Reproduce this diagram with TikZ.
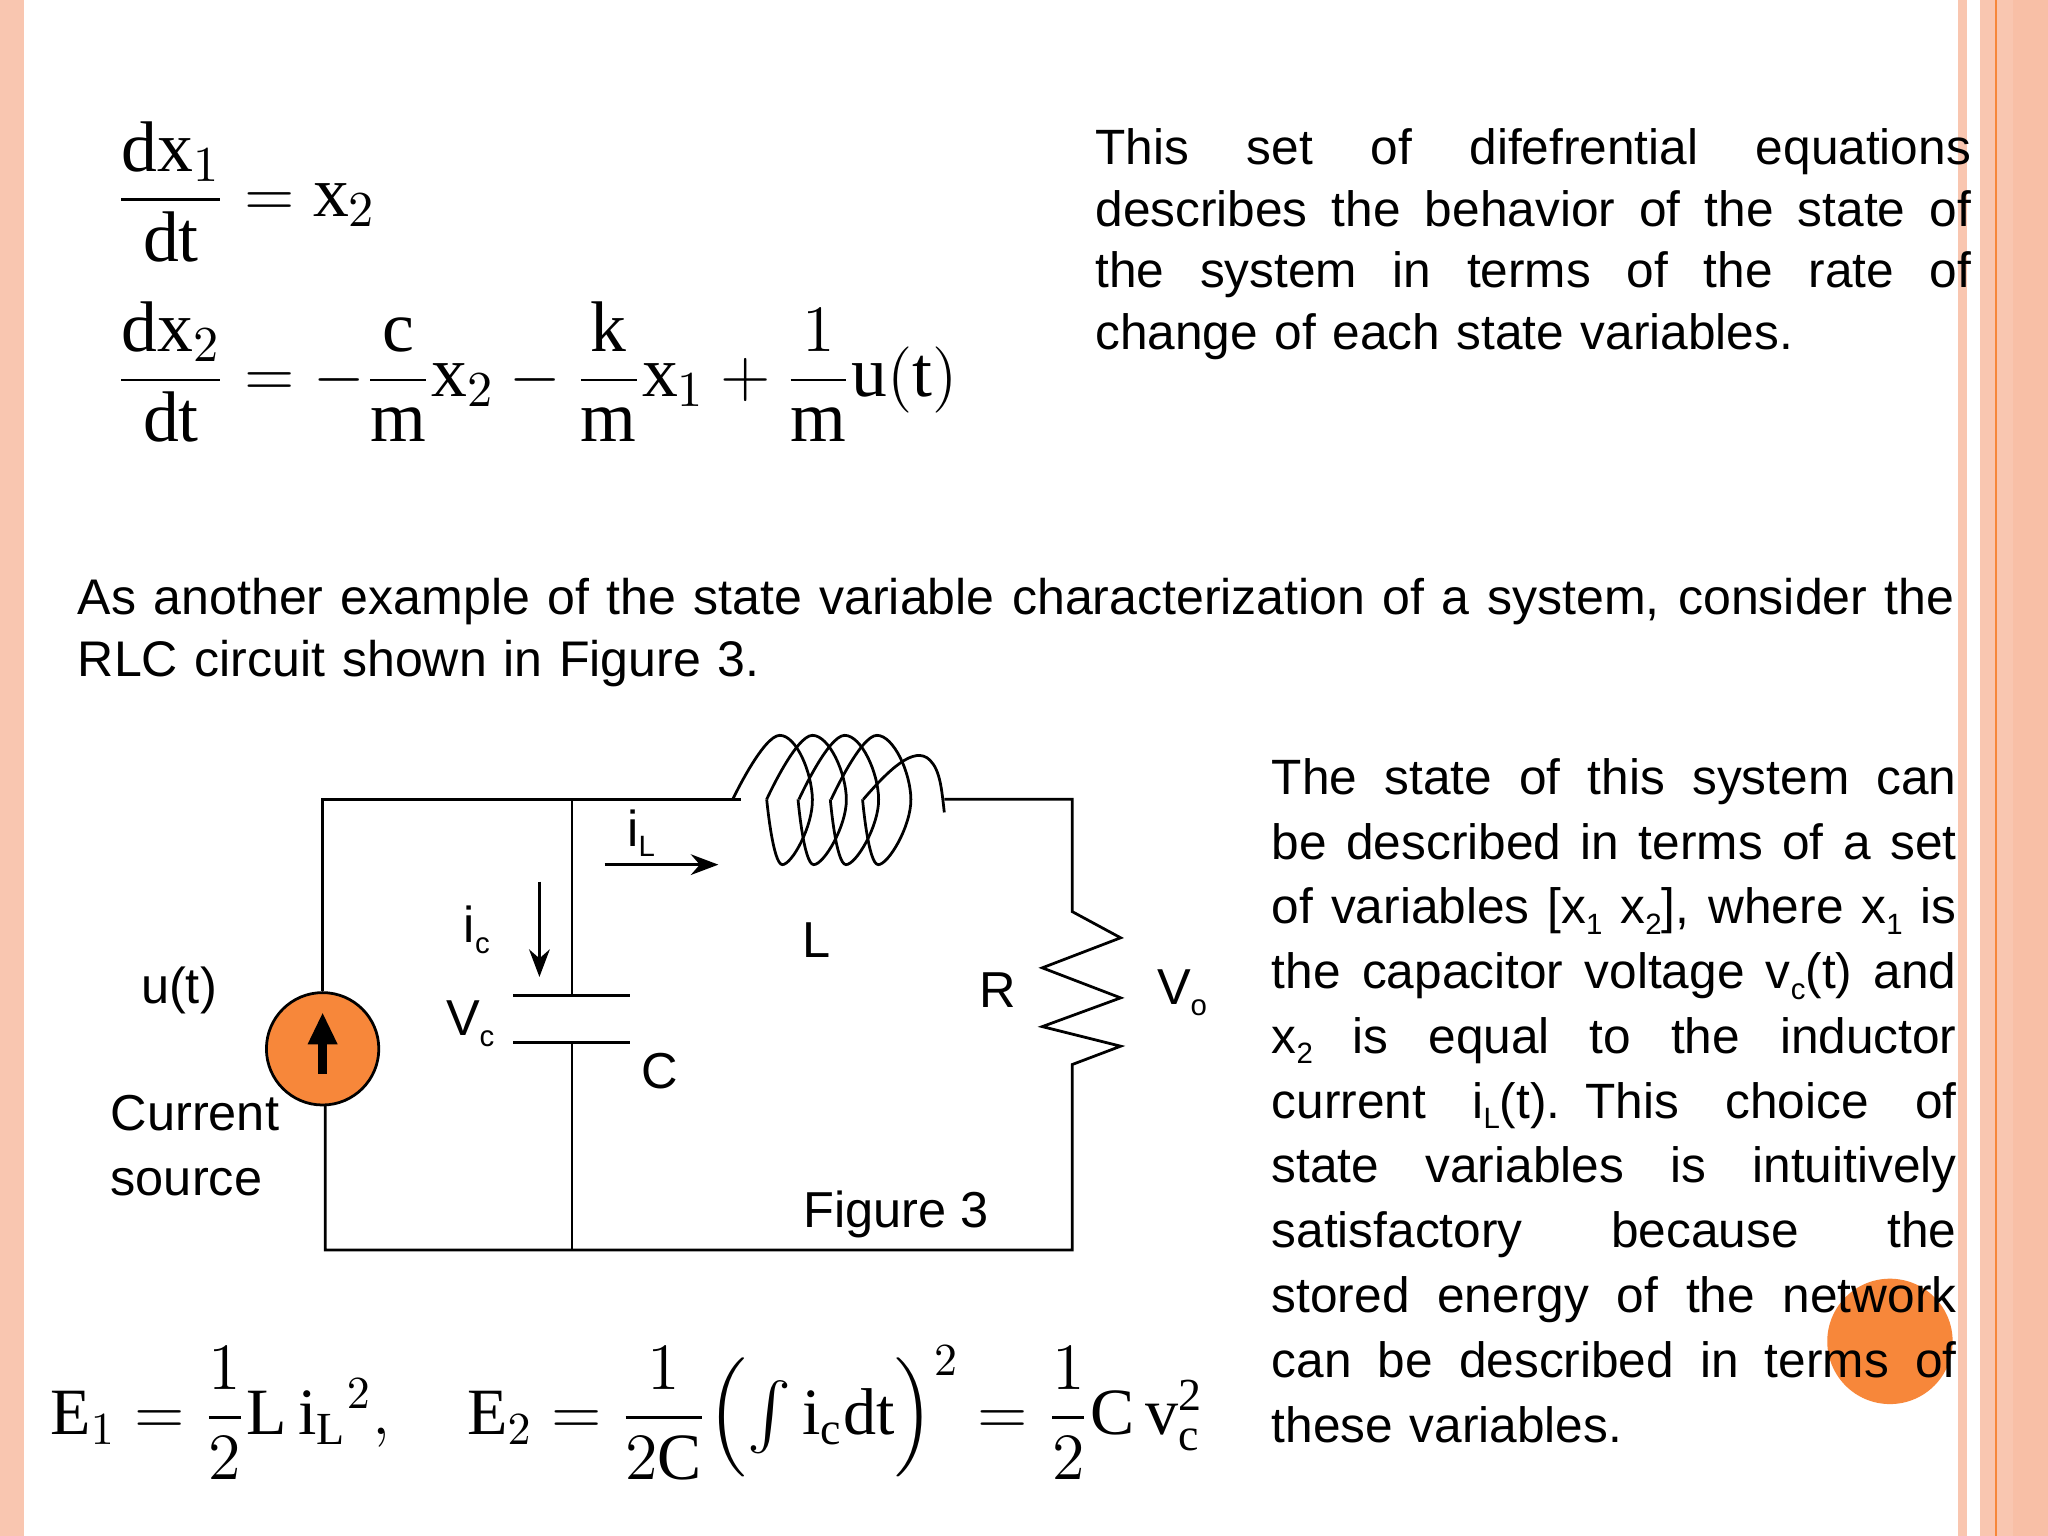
\documentclass[tikz,border=0pt]{standalone}
\usepackage{amsmath}
\usepackage{fontspec}
\setmainfont{Liberation Serif}
\newfontfamily\arial{Liberation Sans}
\usetikzlibrary{arrows.meta}
\definecolor{salmon}{HTML}{F9C6B0}
\definecolor{salmond}{HTML}{F8BFA6}
\definecolor{orng}{HTML}{F7873A}
\newcommand\sbs[1]{\raisebox{-0.4ex}{\fontsize{6.4}{7}\selectfont #1}}
\newlength\jw
\newcommand\jl[1]{\leavevmode\hbox to \jw{\spaceskip=0.25em plus 3em minus 0.1em #1}\\}
\begin{document}
\begin{tikzpicture}[x=0.01cm,y=-0.01cm,
  wire/.style={line width=0.6pt,black},
  txt/.style={font=\arial\fontsize{11}{13.4}\selectfont,inner sep=0pt},
  par/.style={txt,anchor=north west,align=left},
  eq/.style={inner sep=0pt}]
\useasboundingbox (0,0) rectangle (1568,1176);
\fill[white] (0,0) rectangle (1568,1176);
% borders
\fill[salmon] (0,0) rectangle (18,1176);
\fill[salmon] (1499,0) rectangle (1506,1176);
\fill[salmon] (1516,0) rectangle (1541,1176);
\fill[salmond] (1541,0) rectangle (1568,1176);
\draw[orng,line width=0.4pt] (1528,0) -- (1528,1176);
% orange blob
\fill[orng] (1447,1027) circle (48);
% top equations
\node[eq,anchor=west,font=\fontsize{15.6}{18}\selectfont] (eq1) at (88,147) {$\dfrac{\mathrm{dx}_1}{\mathrm{dt}}=\mathrm{x}_2$};
\node[eq,anchor=west,font=\fontsize{15.6}{18}\selectfont] (eq2) at (88,285) {$\dfrac{\mathrm{dx}_2}{\mathrm{dt}}=-\dfrac{\mathrm{c}}{\mathrm{m}}\mathrm{x}_2-\dfrac{\mathrm{k}}{\mathrm{m}}\mathrm{x}_1+\dfrac{1}{\mathrm{m}}\mathrm{u(t)}$};
\node[par,text width=6.7cm,font=\arial\fontsize{10.8}{13.4}\selectfont,execute at begin node={\setlength\jw{6.7cm}}] (p1) at (838,98)
 {\jl{This set of difefrential equations}\jl{describes the behavior of the state of}\jl{the system in terms of the rate of}change of each state variables.};
\node[par,text width=14.36cm,font=\arial\fontsize{10.9}{13.4}\selectfont,execute at begin node={\setlength\jw{14.36cm}}] (p2) at (59,442)
 {\jl{As another example of the state variable characterization of a system, consider the}RLC circuit shown in Figure 3.};
\node[par,text width=5.24cm,font=\arial\fontsize{10.8}{14.1}\selectfont,execute at begin node={\setlength\jw{5.24cm}}] (p3) at (973,580)
 {\jl{The state of this system can}\jl{be described in terms of a set}\jl{of variables [x\sbs{1} x\sbs{2}], where x\sbs{1} is}\jl{the capacitor voltage v\sbs{c}(t) and}\jl{x\sbs{2} is equal to the inductor}\jl{current i\sbs{L}(t). This choice of}\jl{state variables is intuitively}\jl{satisfactory because the}\jl{stored energy of the network}\jl{can be described in terms of}these variables.};
% circuit
\coordinate (tl) at (247,612); \coordinate (tm) at (438,612);
\coordinate (li) at (567,612); \coordinate (lo) at (723,612);
\coordinate (tr) at (821,612); \coordinate (br) at (821,957);
\coordinate (bl) at (249,957); \coordinate (bm) at (438,957);
\node[circle,draw,fill=orng,minimum size=0.86cm,inner sep=0pt,line width=0.6pt] (src) at (247,803) {};
\draw[wire] (src.north) -- (tl) -- (li);
\draw[wire] (lo) -- (tr) -- (821,698) -- (858,718) -- (798,741) -- (858,764) -- (798,786) -- (858,801) -- (821,815) -- (br) -- (bl) -- (249,846);
\draw[wire] (tm) -- (438,762);
\draw[wire] (393,762) -- (482,762);
\draw[wire] (393,798) -- (482,798);
\draw[wire] (438,798) -- (bm);
% inductor
\draw[wire] (li) -- (561,612);
\draw[wire] plot[smooth,tension=0.75] coordinates {(561,612) (597,563) (622,612) (599,662) (587,612)};
\foreach \k in {0,1,2} {
  \draw[wire] plot[smooth,tension=0.75] coordinates {({587+24.7*\k},612) ({622+24.7*\k},563) ({648+24.7*\k},612) ({623+24.7*\k},662) ({611+24.7*\k},612)};
}
\draw[wire] (661,612) .. controls (680,590) and (700,570) .. (712,582) .. controls (720,590) and (721,605) .. (723,622);
\draw[wire] (723,612) -- (lo);
\draw[line width=1.8pt,-{Triangle[length=7pt,width=6pt]}] (247,822) -- (247,775);
\draw[wire,-{Stealth[length=6pt]}] (463,662) -- (550,662);
\draw[wire,-{Stealth[length=6pt]}] (413,675) -- (413,748);
\node[txt] (iL) at (491,638) {i\sbs{L}};
\node[txt] (ic) at (365,712) {i\sbs{c}};
\node[txt] (ut) at (137,758) {u(t)};
\node[txt,align=left,anchor=north west,font=\arial\fontsize{11}{14.1}\selectfont] (cs) at (84,838) {Current\\source};
\node[txt] (vc) at (360,784) {V\sbs{c}};
\node[txt] (C) at (505,820) {C};
\node[txt] (L) at (625,720) {L};
\node[txt] (R) at (764,758) {R};
\node[txt] (vo) at (905,760) {V\sbs{o}};
\node[txt] (fig) at (686,930) {Figure 3};
% energy equations
\node[eq,anchor=west,font=\fontsize{14.4}{18}\selectfont] (eq3) at (38,1082) {$\mathrm{E}_1=\dfrac{1}{2}\mathrm{L\,i_L}^{2},\quad \mathrm{E}_2=\dfrac{1}{2\mathrm{C}}\Bigl(\int\mathrm{i_c dt}\Bigr)^2=\dfrac{1}{2}\mathrm{C\,v_c^2}$};
\end{tikzpicture}
\end{document}
